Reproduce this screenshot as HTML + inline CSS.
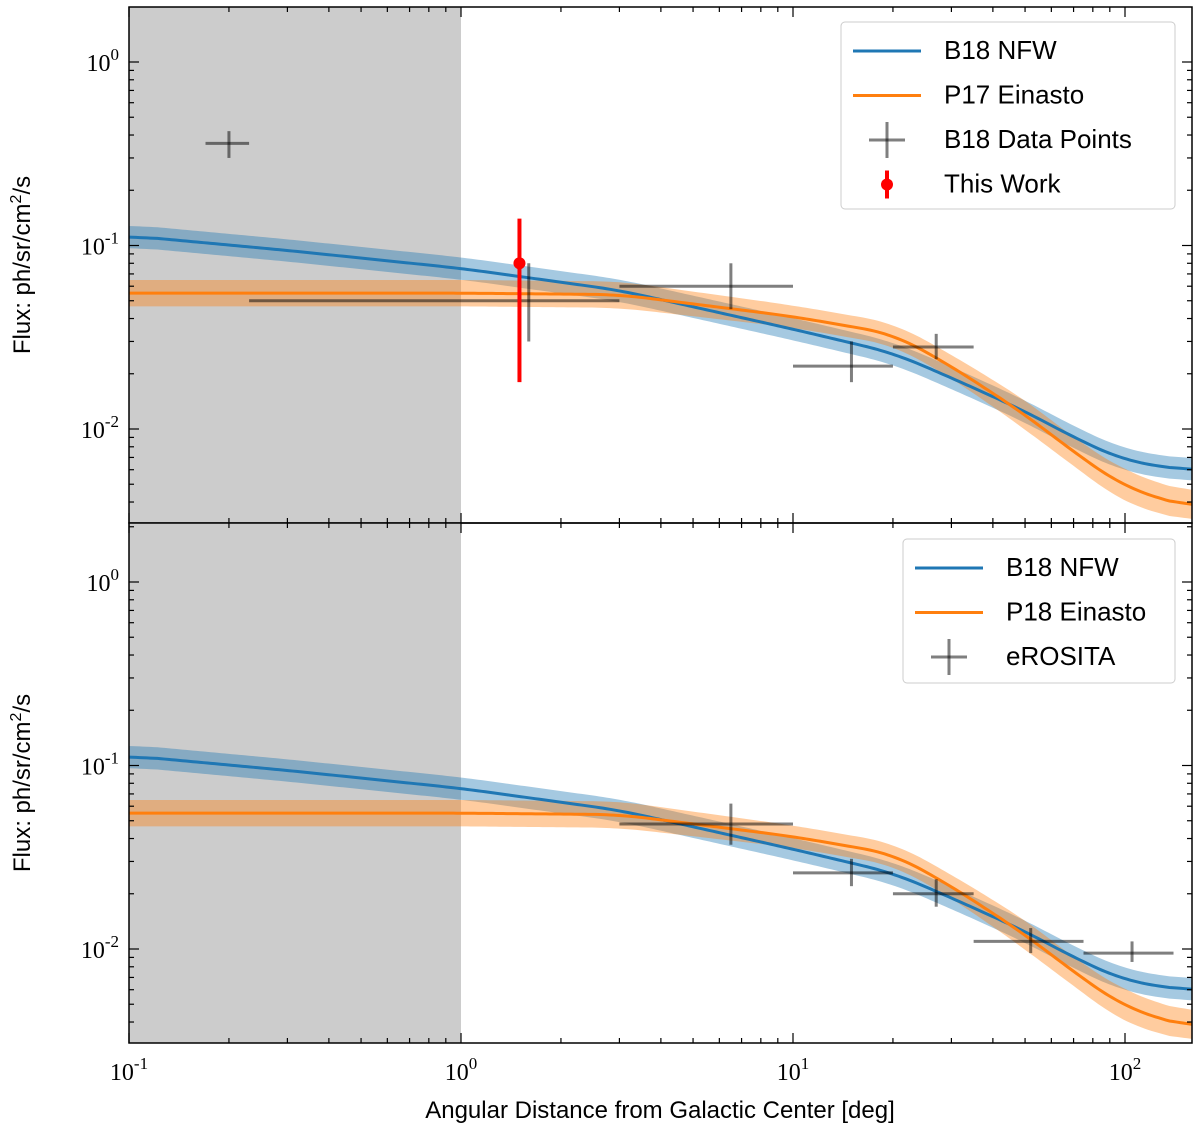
<!DOCTYPE html>
<html><head><meta charset="utf-8"><style>
body{margin:0;background:#fff;}
svg text{font-family:"Liberation Sans",sans-serif;}
.tick{font-family:"Liberation Serif",serif;font-size:24px;}
</style></head><body>
<svg id="chart" width="1200" height="1131" xmlns="http://www.w3.org/2000/svg"></svg>
<script>
// ---- data ----
const curveX = [0.1,0.3,1,3,10,20,30,50,70,100,160];
const nfwY = [0.113,0.094,0.075,0.057,0.035,0.026,0.019,0.0125,0.009,0.0067,0.0059];
const einY = [0.055,0.055,0.055,0.054,0.041,0.033,0.022,0.012,0.0075,0.0048,0.0037];
const nfwBand = 1.15;
const einBand = [1.18,1.18,1.18,1.18,1.15,1.15,1.16,1.2,1.2,1.22,1.2];
const b18Pts = [[0.2,0.36,0.17,0.23,0.30,0.42],[1.6,0.05,0.23,3,0.03,0.08],[6.5,0.06,3,10,0.045,0.08],[15,0.022,10,20,0.018,0.03],[27,0.028,20,35,0.024,0.033]];
const thisWork = [[1.5,0.08,0.018,0.14]];
const eroPts = [[6.5,0.048,3,10,0.037,0.062],[15,0.026,10,20,0.022,0.031],[27,0.02,20,35,0.017,0.024],[52,0.011,35,75,0.0095,0.013],[105,0.0095,75,140,0.0085,0.011]];
const xTicks = [0.1,1,10,100];
const xTickLabels = ["-1","0","1","2"];
const yTicks = [1,0.1,0.01];
const yTickLabels = ["0","-1","-2"];

const NS="http://www.w3.org/2000/svg";
const svg=document.getElementById('chart');
function mk(tag,attrs,parent){const e=document.createElementNS(NS,tag);for(const k in attrs)e.setAttribute(k,attrs[k]);(parent||svg).appendChild(e);return e;}
const X0=129,X1=1192,PXD=332;
const xs=v=>X0+(Math.log10(v)+1)*PXD;
function interp(arr,x){const lx=Math.log10(x);for(let i=0;i<curveX.length-1;i++){const a=Math.log10(curveX[i]),b=Math.log10(curveX[i+1]);if(lx<=b){const t=(lx-a)/(b-a);return Math.pow(10,Math.log10(arr[i])*(1-t)+Math.log10(arr[i+1])*t);}}return arr[arr.length-1];}
function smooth(arr){const out=[];for(let i=0;i<=300;i++){const lx=-1+i/300*3.22;const x=Math.pow(10,lx);out.push([x,interp(arr,x)]);}
 const s=out.map((p,i)=>{let sum=0,n=0;for(let j=-8;j<=8;j++){const k=i+j;if(k>=0&&k<out.length){sum+=Math.log10(out[k][1]);n++;}}return [p[0],Math.pow(10,sum/n)];});return s;}
function panel(top,bot,y0px,name,legendItems,pts,red,legendBox){
 const ys=v=>y0px-Math.log10(v)*183.5;
 const g=mk('g',{});
 mk('rect',{x:X0,y:top,width:xs(1)-X0,height:bot-top,fill:'#cccccc'},g);
 const clip=mk('clipPath',{id:'c'+name},g);mk('rect',{x:X0,y:top,width:X1-X0,height:bot-top},clip);
 const cg=mk('g',{'clip-path':'url(#c'+name+')'},g);
 const nfw=smooth(nfwY),ein=smooth(einY);
 function band(c,f,col,nm){let d='';c.forEach((p,i)=>{const fac=typeof f==='number'?f:interp(einBand,p[0]);d+=(i?'L':'M')+xs(p[0])+','+ys(p[1]*fac);});for(let i=c.length-1;i>=0;i--){const p=c[i];const fac=typeof f==='number'?f:interp(einBand,p[0]);d+='L'+xs(p[0])+','+ys(p[1]/fac);}const e=mk('path',{d:d+'Z',fill:col,'fill-opacity':0.4},cg);}
 band(nfw,nfwBand,'#1f77b4','nfw-band');band(ein,null,'#ff7f0e','einasto-band');
 function line(c,col,nm){const e=mk('path',{d:c.map((p,i)=>(i?'L':'M')+xs(p[0])+','+ys(p[1])).join(''),fill:'none',stroke:col,'stroke-width':3},cg);}
 line(nfw,'#1f77b4','nfw-line');line(ein,'#ff7f0e','einasto-line');
 pts.forEach(p=>{const e=mk('g',{stroke:'#000','stroke-opacity':0.5,'stroke-width':3},cg);
  mk('line',{x1:xs(p[2]),x2:xs(p[3]),y1:ys(p[1]),y2:ys(p[1])},e);mk('line',{x1:xs(p[0]),x2:xs(p[0]),y1:ys(p[4]),y2:ys(p[5])},e);});
 if(red)red.forEach(p=>{const e=mk('g',{},cg);
  mk('line',{x1:xs(p[0]),x2:xs(p[0]),y1:ys(p[2]),y2:ys(p[3]),stroke:'#f00','stroke-width':4},e);mk('circle',{cx:xs(p[0]),cy:ys(p[1]),r:6,fill:'#f00'},e);});
 mk('rect',{x:X0,y:top,width:X1-X0,height:bot-top,fill:'none',stroke:'#000','stroke-width':1.5},g);
 for(let d=-3;d<=0;d++)for(let m=1;m<10;m++){const v=Math.pow(10,d)*m;const y=ys(v);if(y<top||y>bot)continue;const L=m==1?10:5;
  mk('line',{x1:X0,x2:X0+L,y1:y,y2:y,stroke:'#000','stroke-width':1.2},g);mk('line',{x1:X1,x2:X1-L,y1:y,y2:y,stroke:'#000','stroke-width':1.2},g);}
 yTicks.forEach((v,i)=>{const t=mk('text',{x:X0-10,y:ys(v)+9,'text-anchor':'end',class:'tick'},g);
  t.textContent='10';const s=mk('tspan',{dy:-11,'font-size':17},t);s.textContent=yTickLabels[i];});
 for(let d=-1;d<=2;d++)for(let m=1;m<10;m++){const v=Math.pow(10,d)*m;const x=xs(v);if(x>X1)continue;const L=m==1?10:5;
  mk('line',{x1:x,x2:x,y1:bot,y2:bot-L,stroke:'#000','stroke-width':1.2},g);mk('line',{x1:x,x2:x,y1:top,y2:top+L,stroke:'#000','stroke-width':1.2},g);}
 const yl=mk('text',{x:0,y:0,transform:`translate(30,${(top+bot)/2}) rotate(-90)`,'text-anchor':'middle','font-size':24},g);
 
 yl.innerHTML='Flux:  ph/sr/cm<tspan dy="-9" font-size="16">2</tspan><tspan dy="9">/s</tspan>';
 const lg=mk('g',{},g);
 mk('rect',{x:legendBox[0],y:legendBox[1],width:legendBox[2],height:legendBox[3],fill:'#fff',stroke:'#ccc',rx:4},lg);
 legendItems.forEach((it,i)=>{const y=legendBox[1]+37+i*44.5;const lx=legendBox[0]+12;const e=mk('g',{},lg);
  if(it[1]=='line')mk('line',{x1:lx,x2:lx+68,y1:y-8,y2:y-8,stroke:it[2],'stroke-width':3},e);
  else if(it[1]=='cross'){mk('line',{x1:lx+16,x2:lx+52,y1:y-8,y2:y-8,stroke:'#000','stroke-opacity':0.5,'stroke-width':3},e);mk('line',{x1:lx+34,x2:lx+34,y1:y-26,y2:y+10,stroke:'#000','stroke-opacity':0.5,'stroke-width':3},e);}
  else {mk('line',{x1:lx+34,x2:lx+34,y1:y-22,y2:y+6,stroke:'#f00','stroke-width':4},e);mk('circle',{cx:lx+34,cy:y-8,r:6,fill:'#f00'},e);}
  const t=mk('text',{x:lx+91,y:y,'font-size':26},e);t.textContent=it[0];});
}
panel(7,523,62,'top-panel',[['B18 NFW','line','#1f77b4'],['P17 Einasto','line','#ff7f0e'],['B18 Data Points','cross'],['This Work','red']],b18Pts,thisWork,[841,22,334,187]);
panel(523,1043,582,'bottom-panel',[['B18 NFW','line','#1f77b4'],['P18 Einasto','line','#ff7f0e'],['eROSITA','cross']],eroPts,null,[903,539,272,144]);
xTicks.forEach((v,i)=>{const t=mk('text',{x:xs(v),y:1080,'text-anchor':'middle',class:'tick'});
 t.textContent='10';const s=mk('tspan',{dy:-11,'font-size':17},t);s.textContent=xTickLabels[i];});
const xl=mk('text',{x:660,y:1118,'text-anchor':'middle','font-size':24});
xl.textContent='Angular Distance from Galactic Center [deg]';
</script>
</body></html>
